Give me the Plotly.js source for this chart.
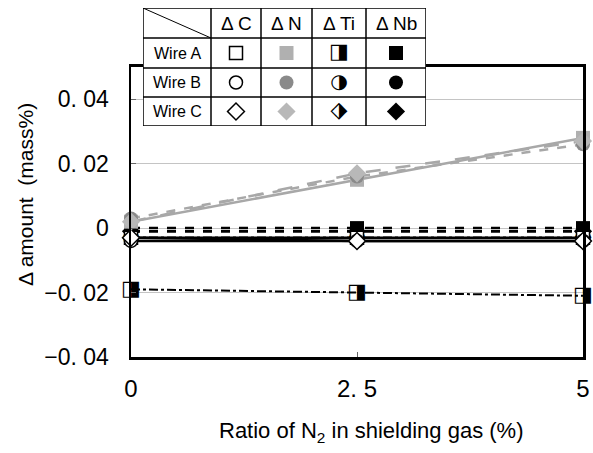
<!DOCTYPE html>
<html>
<head>
<meta charset="utf-8">
<script src="https://cdn.plot.ly/plotly-3.0.1.min.js"></script>
<style>html,body{margin:0;padding:0;background:#fff;}#chart{width:593px;height:453px;}</style>
</head>
<body>
<div id="chart"></div>
<script>
// ---- data ----
const xN2 = [0, 2.5, 5];
const xTickVals = [0, 2.5, 5];
const xTickText = ['0', '2. 5', '5'];
const yTickVals = [-0.04, -0.02, 0, 0.02, 0.04];
const yTickText = ['\u22120. 04', '\u22120. 02', '0', '0. 02', '0. 04'];

const wires = ['Wire A', 'Wire B', 'Wire C'];
const elements = ['\u0394 C', '\u0394 N', '\u0394 Ti', '\u0394 Nb'];

const dC_A = [-0.003, -0.003, -0.003];
const dC_B = [-0.004, -0.004, -0.004];
const dC_C = [-0.003, -0.004, -0.004];
const dN_A = [0.002, 0.015, 0.028];
const dN_B = [0.003, 0.016, 0.026];
const dN_C = [0.002, 0.017, 0.027];
const dTi_A = [-0.019, -0.020, -0.021];
const dTi_B = [-0.003, -0.003, -0.003];
const dTi_C = [-0.003, -0.003, -0.003];
const dNb_A = [0.000, 0.000, 0.000];
const dNb_B = [-0.001, -0.001, -0.001];
const dNb_C = [-0.001, -0.001, -0.001];

// ---- styles ----
const FONT = 'Liberation Sans, Arial, sans-serif';
const shapes3 = ['square', 'circle', 'diamond'];
const tiGlyphs = ['\u25E8', '\u25D1', '\u2B17'];
const tiGlyphSize = [21, 20, 22];
const grayFill = ['#b0b0b0', '#8a8a8a', '#b8b8b8'];
const grayDash = ['solid', 'dash', 'longdash'];

const traces = [];
const dN = [dN_A, dN_B, dN_C];
const dC = [dC_A, dC_B, dC_C];
const dTi = [dTi_A, dTi_B, dTi_C];
const dNb = [dNb_A, dNb_B, dNb_C];

// Nb (black dashed, filled)
dNb.forEach((y, i) => traces.push({
  x: xN2, y: y, type: 'scatter', mode: 'lines+markers', cliponaxis: false,
  line: {color: '#000', width: 2.5, dash: 'dash'},
  marker: {symbol: shapes3[i], size: 14, color: '#000'},
  hoverinfo: 'skip', showlegend: false
}));
// Ti (dash-dot, half filled)
dTi.forEach((y, i) => {
  traces.push({
    x: xN2, y: y, type: 'scatter', mode: 'lines', cliponaxis: false,
    line: {color: '#000', width: 2, dash: 'dashdot'}, hoverinfo: 'skip', showlegend: false
  });
  traces.push({
    x: xN2, y: y, type: 'scatter', mode: 'text', cliponaxis: false,
    text: xN2.map(() => tiGlyphs[i]), textposition: 'middle center',
    textfont: {family: 'DejaVu Sans', size: tiGlyphSize[i], color: '#000'},
    hoverinfo: 'skip', showlegend: false
  });
});
// C (solid, open)
dC.forEach((y, i) => traces.push({
  x: xN2, y: y, type: 'scatter', mode: 'lines+markers', cliponaxis: false,
  line: {color: '#000', width: 2.5},
  marker: {symbol: shapes3[i], size: 13, color: '#fff', line: {color: '#000', width: 1.5}},
  hoverinfo: 'skip', showlegend: false
}));
// N (gray)
dN.forEach((y, i) => traces.push({
  x: xN2, y: y, type: 'scatter', mode: 'lines+markers', cliponaxis: false,
  line: {color: '#a8a8a8', width: 2.5, dash: grayDash[i]},
  marker: {symbol: shapes3[i], size: 14, color: grayFill[i]},
  hoverinfo: 'skip', showlegend: false
}));

// ---- legend table (inset axes in pixel-like units) ----
const colEdges = [0, 68, 118, 169, 223, 283];
const rowEdges = [0, 30, 60, 89, 118];
const colMid = colEdges.slice(1, -1).map((e, k) => (e + colEdges[k + 2]) / 2);
const rowMid = rowEdges.slice(1, -1).map((e, k) => (e + rowEdges[k + 2]) / 2);

wires.forEach((w, r) => {
  const yy = rowMid[r];
  traces.push({x: [colMid[0]], y: [yy], xaxis: 'x2', yaxis: 'y2', type: 'scatter', mode: 'markers',
    marker: {symbol: shapes3[r], size: 13, color: '#fff', line: {color: '#000', width: 1.5}}, hoverinfo: 'skip', showlegend: false});
  traces.push({x: [colMid[1]], y: [yy], xaxis: 'x2', yaxis: 'y2', type: 'scatter', mode: 'markers',
    marker: {symbol: shapes3[r], size: 14, color: grayFill[r]}, hoverinfo: 'skip', showlegend: false});
  traces.push({x: [colMid[2]], y: [yy], xaxis: 'x2', yaxis: 'y2', type: 'scatter', mode: 'text',
    text: [tiGlyphs[r]], textposition: 'middle center', textfont: {family: 'DejaVu Sans', size: tiGlyphSize[r], color: '#000'},
    hoverinfo: 'skip', showlegend: false});
  traces.push({x: [colMid[3]], y: [yy], xaxis: 'x2', yaxis: 'y2', type: 'scatter', mode: 'markers',
    marker: {symbol: shapes3[r], size: 14, color: '#000'}, hoverinfo: 'skip', showlegend: false});
});

const shapes = [];
const lineStyle = {color: '#000', width: 1.5};
shapes.push({type: 'rect', xref: 'x2', yref: 'y2', x0: colEdges[0], x1: colEdges[colEdges.length - 1],
  y0: rowEdges[0], y1: rowEdges[rowEdges.length - 1], line: lineStyle, layer: 'above'});
colEdges.slice(1, -1).forEach(c => shapes.push({type: 'line', xref: 'x2', yref: 'y2', x0: c, x1: c,
  y0: rowEdges[0], y1: rowEdges[rowEdges.length - 1], line: lineStyle, layer: 'above'}));
rowEdges.slice(1, -1).forEach(r => shapes.push({type: 'line', xref: 'x2', yref: 'y2', y0: r, y1: r,
  x0: colEdges[0], x1: colEdges[colEdges.length - 1], line: lineStyle, layer: 'above'}));
shapes.push({type: 'line', xref: 'x2', yref: 'y2', x0: colEdges[0], y0: rowEdges[0], x1: colEdges[1], y1: rowEdges[1],
  line: {color: '#000', width: 1}, layer: 'above'});

const annotations = [];
elements.forEach((e, k) => annotations.push({xref: 'x2', yref: 'y2', x: colMid[k], y: (rowEdges[0] + rowEdges[1]) / 2,
  text: e, showarrow: false, font: {family: FONT, size: 19, color: '#000'}}));
wires.forEach((w, r) => annotations.push({xref: 'x2', yref: 'y2', x: (colEdges[0] + colEdges[1]) / 2, y: rowMid[r],
  text: w, showarrow: false, font: {family: FONT, size: 16, color: '#000'}}));
annotations.push({xref: 'paper', yref: 'paper', x: -0.2345, y: 0.464, xanchor: 'center', yanchor: 'middle', textangle: -90,
  text: '\u0394 amount  (mass%)', showarrow: false, font: {family: FONT, size: 21, color: '#000'}});
annotations.push({xref: 'paper', yref: 'paper', x: 0.533, y: -0.215, xanchor: 'center', yanchor: 'middle',
  text: 'Ratio of N<sub>2</sub> in shielding gas (%)', showarrow: false, font: {family: FONT, size: 22, color: '#000'}});

const layout = {
  width: 593, height: 453,
  margin: {l: 131, r: 10, t: 8, b: 96},
  paper_bgcolor: '#fff', plot_bgcolor: '#fff',
  showlegend: false,
  font: {family: FONT, color: '#000'},
  xaxis: {
    range: [0, 5], tickvals: xTickVals, ticktext: xTickText,
    ticks: 'inside', ticklen: 5, tickwidth: 1, tickcolor: '#666',
    showgrid: false, zeroline: false,
    showline: true, linecolor: '#000', linewidth: 2.5, mirror: true,
    tickfont: {family: FONT, size: 24, color: '#000'}, ticklabelstandoff: 9,
    anchor: 'y', domain: [0, 1]
  },
  yaxis: {
    range: [-0.04, 0.05], tickvals: yTickVals, ticktext: yTickText,
    ticks: 'inside', ticklen: 5, tickwidth: 1, tickcolor: '#666',
    showgrid: true, gridcolor: '#c4c4c4', gridwidth: 1, zeroline: false,
    showline: true, linecolor: '#000', linewidth: 2.5, mirror: true,
    tickfont: {family: FONT, size: 23, color: '#000'}, ticklabelstandoff: 15,
    anchor: 'x', domain: [0, 0.83095]
  },
  xaxis2: {domain: [0.02655, 0.65265], range: [0, 283], anchor: 'y2', visible: false, fixedrange: true},
  yaxis2: {domain: [0.66189, 1], range: [118, 0], anchor: 'x2', visible: false, fixedrange: true},
  shapes: shapes,
  annotations: annotations
};

Plotly.newPlot('chart', traces, layout, {staticPlot: true, displayModeBar: false});
</script>
</body>
</html>
